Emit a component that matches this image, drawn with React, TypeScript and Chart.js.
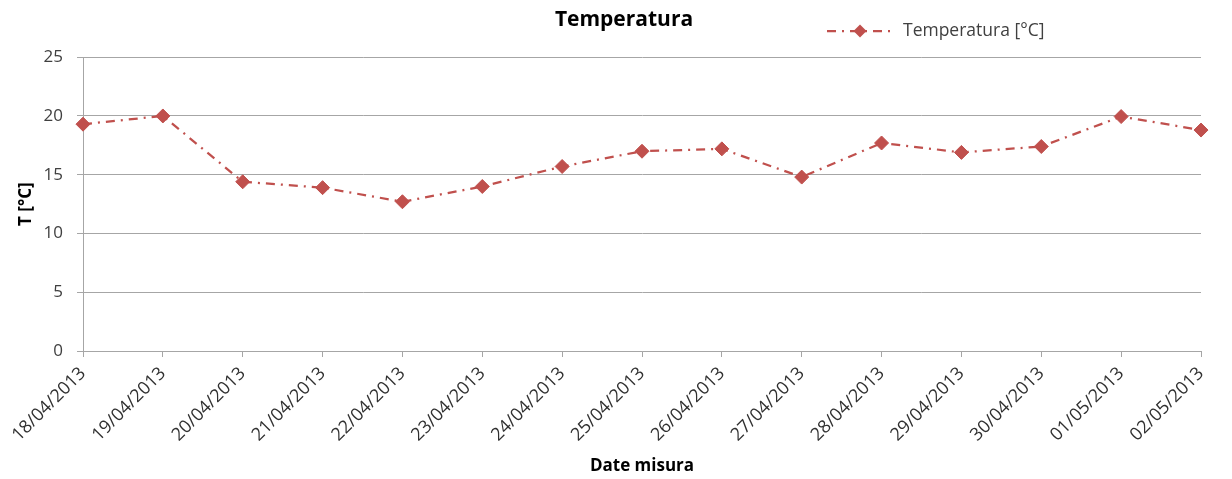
import React, { useEffect, useRef } from "react";
import { Chart, registerables } from "chart.js";

Chart.register(...registerables);

const categories = [
  "18/04/2013", "19/04/2013", "20/04/2013", "21/04/2013", "22/04/2013",
  "23/04/2013", "24/04/2013", "25/04/2013", "26/04/2013", "27/04/2013",
  "28/04/2013", "29/04/2013", "30/04/2013", "01/05/2013", "02/05/2013",
];
const temperatura = [19.3, 20.0, 14.4, 13.9, 12.7, 14.0, 15.7, 17.0, 17.2, 14.8, 17.7, 16.9, 17.4, 19.95, 18.8];
const seriesLabel = "Temperatura [°C]";
const chartTitle = "Temperatura";
const xTitle = "Date misura";
const yTitle = "T [°C]";

const RED = "#C0504D";
const DASH = [9, 6, 2, 6];
const FONT = "'Open Sans', 'Liberation Sans', sans-serif";

const legendPlugin = {
  id: "customLegend",
  afterDraw(chart: any) {
    const ctx = chart.ctx;
    const y = 31;
    ctx.save();
    ctx.strokeStyle = RED;
    ctx.lineWidth = 2.25;
    ctx.setLineDash(DASH);
    ctx.lineDashOffset = 0;
    ctx.beginPath();
    ctx.moveTo(827, y);
    ctx.lineTo(892, y);
    ctx.stroke();
    ctx.setLineDash([]);
    ctx.fillStyle = RED;
    ctx.beginPath();
    const cx = 860, r = 6.5;
    ctx.moveTo(cx, y - r);
    ctx.lineTo(cx + r, y);
    ctx.lineTo(cx, y + r);
    ctx.lineTo(cx - r, y);
    ctx.closePath();
    ctx.fill();
    ctx.font = `17.5px ${FONT}`;
    ctx.fillStyle = "#404040";
    ctx.textBaseline = "middle";
    ctx.textAlign = "left";
    ctx.fillText(seriesLabel, 903, y);
    ctx.restore();
  },
};

export default function App() {
  const ref = useRef<HTMLCanvasElement>(null);
  useEffect(() => {
    if (!ref.current) return;
    const chart = new Chart(ref.current, {
      type: "line",
      data: {
        labels: categories,
        datasets: [
          {
            label: seriesLabel,
            data: temperatura,
            borderColor: RED,
            backgroundColor: RED,
            borderWidth: 2.25,
            borderDash: DASH,
            pointStyle: "rectRot",
            pointRadius: 7,
            pointBorderWidth: 1,
            pointBackgroundColor: RED,
            pointBorderColor: RED,
            tension: 0,
          },
        ],
      },
      options: {
        animation: false,
        responsive: true,
        maintainAspectRatio: false,
        layout: { padding: { left: 16, right: 0, top: 0, bottom: 0 } },
        plugins: {
          legend: { display: false },
          tooltip: { enabled: false },
          title: {
            display: true,
            text: chartTitle,
            color: "#000",
            font: { family: FONT, size: 21, weight: "bold" },
            padding: { top: 7, bottom: 25 },
          },
        },
        scales: {
          x: {
            type: "category",
            offset: false,
            afterFit(scale: any) {
              scale.height = 128;
              scale.paddingRight = 31;
            },
            grid: {
              drawOnChartArea: false,
              drawTicks: true,
              tickLength: 6,
              color: "#a6a6a6",
            },
            border: { color: "#a6a6a6", width: 1 },
            ticks: {
              minRotation: 45,
              maxRotation: 45,
              autoSkip: false,
              padding: 6,
              color: "#303030",
              font: { family: FONT, size: 18 },
            },
            title: {
              display: true,
              text: xTitle,
              color: "#000",
              font: { family: FONT, size: 17, weight: "bold" },
              padding: { top: 0, bottom: 3 },
            },
          },
          y: {
            min: 0,
            max: 25,
            afterFit(scale: any) {
              scale.width = 67;
            },
            grid: {
              color: "#a6a6a6",
              tickLength: 6,
            },
            border: { color: "#a6a6a6", width: 1 },
            ticks: {
              stepSize: 5,
              padding: 14,
              color: "#404040",
              font: { family: FONT, size: 17 },
            },
            title: {
              display: true,
              text: yTitle,
              color: "#000",
              font: { family: FONT, size: 17, weight: "bold" },
              padding: { top: 0, bottom: 0 },
            },
          },
        },
      },
      plugins: [legendPlugin],
    } as any);
    return () => chart.destroy();
  }, []);
  return (
    <div style={{ position: "fixed", left: 0, top: 0, width: 1232, height: 479, background: "#fff" }}>
      <canvas ref={ref} />
    </div>
  );
}
